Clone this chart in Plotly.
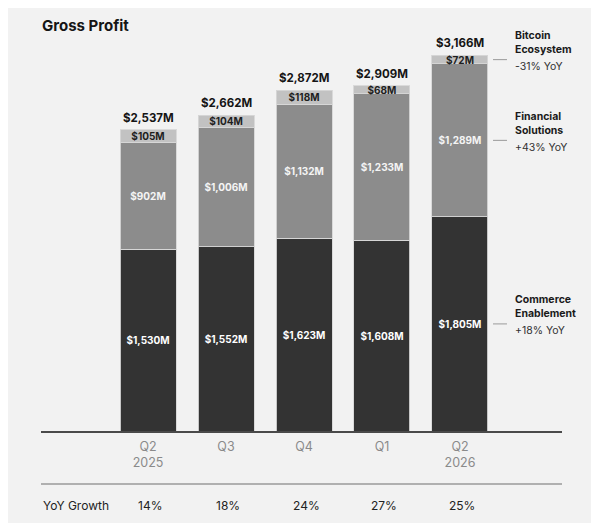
import plotly.graph_objects as go

quarters = ["Q2<br>2025", "Q3", "Q4", "Q1", "Q2<br>2026"]
commerce = [1530, 1552, 1623, 1608, 1805]
financial = [902, 1006, 1132, 1233, 1289]
bitcoin = [105, 104, 118, 68, 72]
totals = [2537, 2662, 2872, 2909, 3166]
yoy_growth = ["14%", "18%", "24%", "27%", "25%"]

segments = ["Commerce<br>Enablement", "Financial<br>Solutions", "Bitcoin<br>Ecosystem"]
segment_yoy = ["+18% YoY", "+43% YoY", "-31% YoY"]

FONT = "Inter"


def money(v):
    return f"${v:,}M"


fig = go.Figure()
for vals, color, txtcolor in [(commerce, "#333333", "#ffffff"),
                              (financial, "#8c8c8c", "#f4f4f4"),
                              (bitcoin, "#c2c2c2", "#1e1e1e")]:
    fig.add_trace(go.Bar(
        x=quarters, y=vals, width=0.718,
        marker=dict(color=color, line=dict(color="rgba(215,215,215,0.9)", width=1)),
        text=[money(v) for v in vals], textposition="inside",
        insidetextanchor="middle", textangle=0, constraintext="none",
        textfont=dict(family=FONT, size=10, color=txtcolor, weight="bold"),
        hoverinfo="skip", showlegend=False,
    ))

# totals above the bars
for q, t in zip(quarters, totals):
    fig.add_annotation(x=q, y=t, text=f"<b>{money(t)}</b>", showarrow=False,
                       yanchor="bottom", yshift=3,
                       font=dict(family=FONT, size=11.5, color="#151515"))

# segment labels on the right, aligned with last bar
last = len(quarters) - 1
mids = [commerce[last] / 2,
        commerce[last] + financial[last] / 2,
        commerce[last] + financial[last] + bitcoin[last] / 2]
for name, yy, m in zip(segments, segment_yoy, mids):
    fig.add_shape(type="line", xref="paper", yref="y", x0=0.8676, x1=0.8944,
                  y0=m, y1=m, line=dict(color="#9a9a9a", width=1))
    fig.add_annotation(xref="paper", x=0.906, y=m, text=f"<b>{name}</b>",
                       showarrow=False, xanchor="left", yanchor="middle", yshift=17,
                       align="left", font=dict(family=FONT, size=10.5, color="#1a1a1a"))
    fig.add_annotation(xref="paper", x=0.906, y=m, text=yy,
                       showarrow=False, xanchor="left", yanchor="middle", yshift=-7,
                       align="left", font=dict(family=FONT, size=10.5, color="#333333"))

# YoY growth row
fig.add_shape(type="line", xref="paper", yref="paper", x0=0, x1=1,
              y0=-0.1325, y1=-0.1325, line=dict(color="#b0b0b0", width=2))
fig.add_annotation(xref="paper", yref="paper", x=0, y=-0.185, text="YoY Growth",
                   showarrow=False, xanchor="left", yanchor="middle",
                   font=dict(family=FONT, size=12, color="#222222"))
for q, g in zip(quarters, yoy_growth):
    fig.add_annotation(x=q, yref="paper", y=-0.185, text=g, showarrow=False,
                       yanchor="middle", xshift=2,
                       font=dict(family=FONT, size=12, color="#222222"))

# background panel
fig.add_shape(type="rect", xref="paper", yref="paper", x0=-0.0691, x1=1.0653,
              y0=-0.23, y1=1.0625, fillcolor="#f2f2f2", line=dict(width=0),
              layer="below")

# page body has an 8px margin, so the figure is 8px smaller and shifted
fig.update_layout(
    width=591, height=523,
    margin=dict(l=33, r=37, t=23, b=100),
    barmode="stack",
    paper_bgcolor="white", plot_bgcolor="rgba(0,0,0,0)",
    font=dict(family=FONT),
    title=dict(text="<b>Gross Profit</b>", x=34 / 591, xanchor="left",
               y=1 - 18 / 523, yanchor="middle",
               font=dict(family=FONT, size=15, color="#151515")),
    uniformtext=dict(minsize=10, mode="show"),
    xaxis=dict(type="category", range=[-1.372, 5.308], showgrid=False,
               showline=True, linecolor="#4a4a4a", linewidth=2, ticks="",
               ticklabelstandoff=3, fixedrange=True,
               tickfont=dict(family=FONT, size=12.5, color="#8a8a8a")),
    yaxis=dict(range=[0, 400 / 0.11865], visible=False, fixedrange=True),
)

fig.write_html("out.html")
